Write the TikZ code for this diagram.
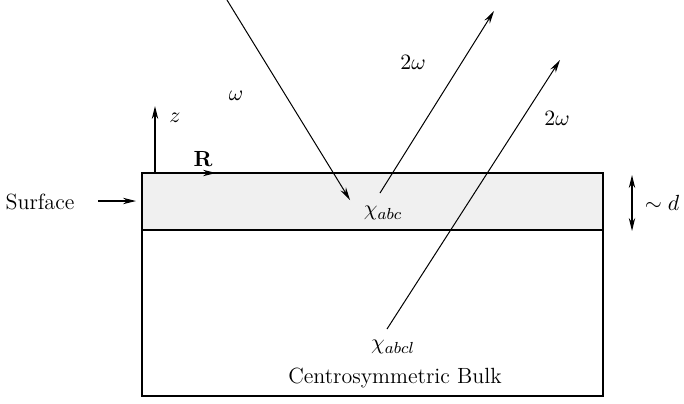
\documentclass[tikz,border=0pt]{standalone}
\usetikzlibrary{arrows.meta}
\begin{document}
\begin{tikzpicture}[x=0.5pt,y=-0.5pt,
  ray/.style={line width=0.5pt,-{Stealth[length=6.5pt,width=3.2pt]}},
  frame/.style={line width=0.7pt},
  lbl/.style={inner sep=0pt,font=\fontsize{11}{13}\selectfont}]
\useasboundingbox (0,0) rectangle (684,403);
% surface layer
\fill[black!6] (142,173) rectangle (603,230);
\draw[frame] (142,173) rectangle (603,396);
\draw[frame] (142,230) -- (603,230);
% axes
\coordinate (o) at (155,173);
\coordinate (zt) at (155,106);
\coordinate (rt) at (216,173);
\draw[ray,line width=0.6pt] (o) -- (zt);
\draw[ray,line width=0.6pt] (o) -- (rt);
\node[lbl] (zl) at (175,118) {$z$};
\node[lbl] (Rl) at (203,159) {$\mathbf{R}$};
% surface label
\node[lbl] (surf) at (40,202) {Surface};
\coordinate (sa) at (98,201);
\coordinate (sb) at (136,201);
\draw[ray,line width=0.6pt] (sa) -- (sb);
% thickness
\coordinate (da) at (632,203);
\draw[ray,line width=0.6pt] (da) -- (632,175);
\draw[ray,line width=0.6pt] (da) -- (632,231);
\node[lbl] (dl) at (662,203) {$\sim d$};
% rays
\coordinate (i0) at (227,0);
\coordinate (i1) at (350,200);
\draw[ray] (i0) -- (i1);
\node[lbl] (w) at (236,96) {$\omega$};
\coordinate (a0) at (380,193);
\coordinate (a1) at (494,11);
\draw[ray] (a0) -- (a1);
\node[lbl] (w2a) at (413,62) {$2\omega$};
\coordinate (b0) at (387,329);
\coordinate (b1) at (560,60);
\draw[ray] (b0) -- (b1);
\node[lbl] (w2b) at (557,118) {$2\omega$};
% chis
\node[lbl] (chia) at (383,213) {$\chi_{abc}$};
\node[lbl] (chib) at (393,347) {$\chi_{abcl}$};
\node[lbl] (bulk) at (395,378) {Centrosymmetric Bulk};
\end{tikzpicture}
\end{document}
